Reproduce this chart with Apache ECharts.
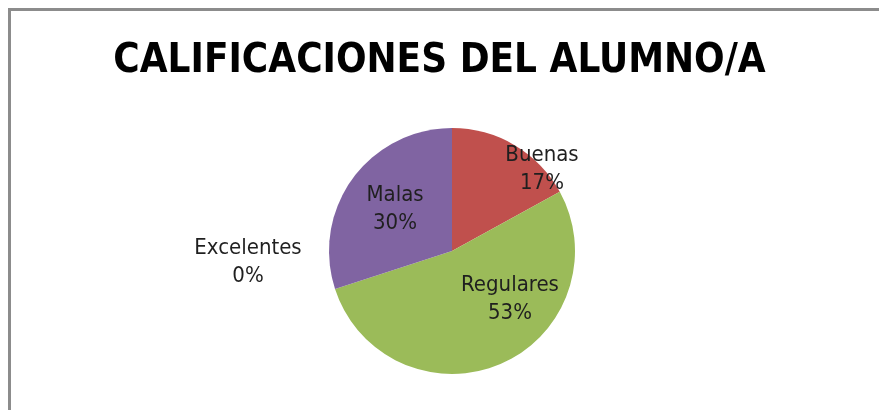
<!DOCTYPE html>
<html>
<head>
<meta charset="utf-8">
<script src="https://cdn.jsdelivr.net/npm/echarts@6/dist/echarts.min.js"></script>
<style>
  html, body { margin: 0; padding: 0; background: #fff; }
  #chart { width: 879px; height: 410px; }
</style>
</head>
<body>
<div id="chart"></div>
<script>
'use strict';

// ---- data ----
const categories = ['Buenas', 'Regulares', 'Malas', 'Excelentes'];
const shares = [17, 53, 30, 0];

// ---- look ----
const C = { buenas: '#C0504D', regulares: '#9BBB59', malas: '#8064A2', excelentes: '#4F81BD', ink: '#1f1f1f', frame: '#8c8c8c' };
const FONT = "'Liberation Sans Narrow', 'DejaVu Sans Condensed', 'Open Sans', sans-serif";
// where Excel's "best fit" put each label (centre of the two-line block)
const labelSpots = [[542, 169], [510, 299], [395, 209], [248, 262]];

const chart = echarts.init(document.getElementById('chart'), null, { renderer: 'canvas' });
chart.setOption({
  animation: false,
  title: {
    text: 'CALIFICACIONES DEL ALUMNO/A', left: 'center', top: 37,
    textStyle: { fontFamily: FONT, fontWeight: 'bold', fontSize: 40, color: '#000' }
  },
  graphic: [{
    type: 'polyline', silent: true,
    shape: { points: [[9.5, 420], [9.5, 9.5], [890, 9.5]] },
    style: { stroke: C.frame, lineWidth: 3, fill: null }
  }],
  series: [{
    type: 'pie',
    center: [452, 251],
    radius: 123,
    startAngle: 90,
    clockwise: true,
    avoidLabelOverlap: false,
    stillShowZeroSum: true,
    minShowLabelAngle: 0,
    itemStyle: { borderWidth: 0 },
    label: {
      show: true, position: 'inside',
      formatter: p => p.name + '\n' + p.value + '%',
      fontFamily: FONT, fontSize: 22, lineHeight: 28, color: C.ink, align: 'center'
    },
    labelLine: { show: false },
    labelLayout: p => ({ x: labelSpots[p.dataIndex][0], y: labelSpots[p.dataIndex][1], align: 'center', verticalAlign: 'middle' }),
    data: categories.map((n, i) => ({
      name: n, value: shares[i],
      itemStyle: { color: [C.buenas, C.regulares, C.malas, C.excelentes][i] }
    }))
  }]
});
</script>
</body>
</html>
